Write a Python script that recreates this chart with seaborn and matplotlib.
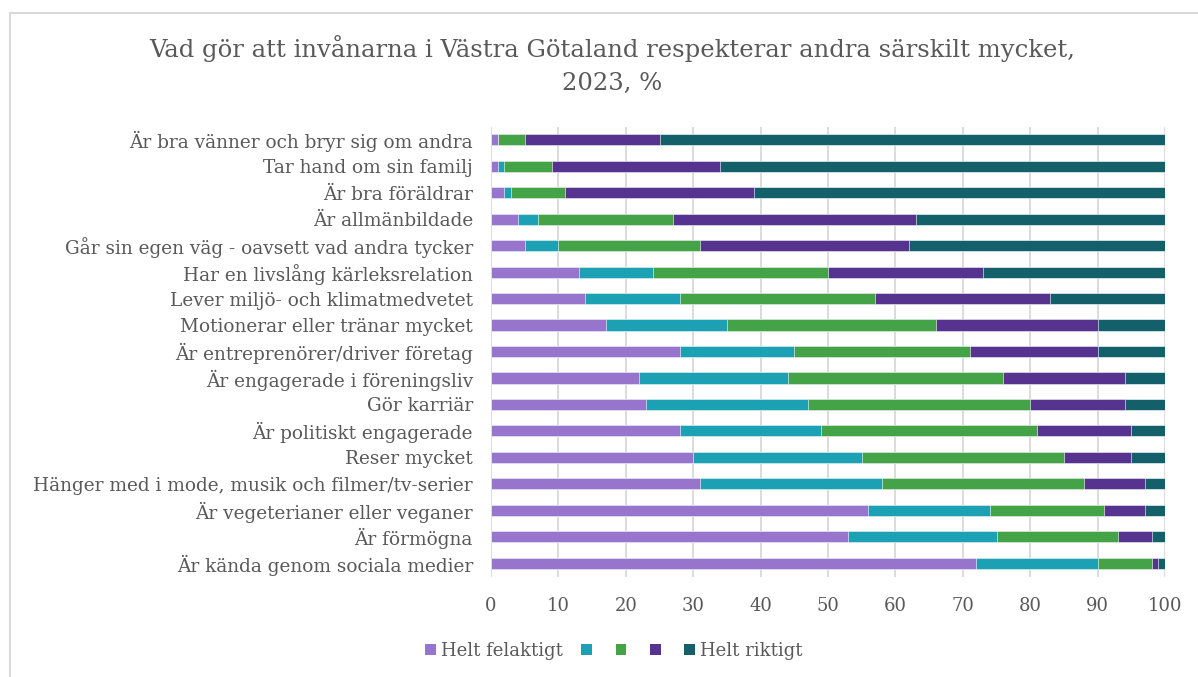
import matplotlib
matplotlib.use("Agg")
import matplotlib.pyplot as plt
import seaborn as sns
import numpy as np
import pandas as pd
from matplotlib.patches import Patch, Rectangle

# Categories (top to bottom) and the five answer levels, % per level
categories = [
    "Är bra vänner och bryr sig om andra",
    "Tar hand om sin familj",
    "Är bra föräldrar",
    "Är allmänbildade",
    "Går sin egen väg - oavsett vad andra tycker",
    "Har en livslång kärleksrelation",
    "Lever miljö- och klimatmedvetet",
    "Motionerar eller tränar mycket",
    "Är entreprenörer/driver företag",
    "Är engagerade i föreningsliv",
    "Gör karriär",
    "Är politiskt engagerade",
    "Reser mycket",
    "Hänger med i mode, musik och filmer/tv-serier",
    "Är vegeterianer eller veganer",
    "Är förmögna",
    "Är kända genom sociala medier",
]
helt_felaktigt = [1, 1, 2, 4, 5, 13, 14, 17, 28, 22, 23, 28, 30, 31, 56, 53, 72]
level_2 = [0, 1, 1, 3, 5, 11, 14, 18, 17, 22, 24, 21, 25, 27, 18, 22, 18]
level_3 = [4, 7, 8, 20, 21, 26, 29, 31, 26, 32, 33, 32, 30, 30, 17, 18, 8]
level_4 = [20, 25, 28, 36, 31, 23, 26, 24, 19, 18, 14, 14, 10, 9, 6, 5, 1]
helt_riktigt = [75, 66, 61, 37, 38, 27, 17, 10, 10, 6, 6, 5, 5, 3, 3, 2, 1]

series_names = ["Helt felaktigt", "", "", "", "Helt riktigt"]
colors = ["#9775CC", "#1BA0B4", "#44A347", "#55338F", "#13606A"]

title = "Vad gör att invånarna i Västra Götaland respekterar andra särskilt mycket,\n2023, %"

sns.set_theme(style="white")
plt.rcParams["font.family"] = ["DejaVu Serif"]
text_col = "#595959"
grid_col = "#D9D9D9"

df = pd.DataFrame({
    "cat": categories,
    "s1": helt_felaktigt, "s2": level_2, "s3": level_3,
    "s4": level_4, "s5": helt_riktigt,
})
cols = ["s1", "s2", "s3", "s4", "s5"]
cum = df[cols].cumsum(axis=1)

fig = plt.figure(figsize=(11.98, 6.77), dpi=100)
ax = fig.add_axes([491 / 1198, 1 - 576.5 / 677, 674 / 1198, 450 / 677])

# stacked bars: draw the widest cumulative layer first
for i in range(4, -1, -1):
    sns.barplot(x=cum[cols[i]], y=df["cat"], color=colors[i], orient="h",
                width=0.42, saturation=1, edgecolor="white", linewidth=0.4,
                ax=ax, zorder=2)

ax.set_xlim(0, 100)
ax.set_ylim(16.5, -0.5)
ax.set_xticks(range(0, 101, 10))
ax.xaxis.grid(True, color=grid_col, linewidth=1.3, zorder=0)
ax.set_axisbelow(True)
for s in ax.spines.values():
    s.set_visible(False)
ax.set_xlabel("")
ax.set_ylabel("")
ax.tick_params(axis="x", colors=grid_col, length=5, width=1.3, pad=10,
               labelcolor=text_col, labelsize=13)
ax.tick_params(axis="y", length=0, pad=13, labelcolor=text_col, labelsize=13.3)

fig.text(612 / 1198, 1 - 65 / 677, title, ha="center", va="center",
         fontsize=17.5, color=text_col, linespacing=1.5)

handles = [Patch(facecolor=c, edgecolor="none") for c in colors]
fig.legend(handles, series_names, loc="center", ncol=5,
           bbox_to_anchor=(614 / 1198, 1 - 651 / 677), frameon=False,
           fontsize=13, labelcolor=text_col, handlelength=0.6,
           handleheight=0.6, handletextpad=0.3, columnspacing=1.0)

# chart border as in the source document
fig.patches.append(Rectangle((9.5 / 1198, -0.05), 1.2, 1 - 12.5 / 677 + 0.05,
                             transform=fig.transFigure, fill=False,
                             edgecolor=grid_col, linewidth=1.5))

fig.savefig("out.png", dpi=100)
